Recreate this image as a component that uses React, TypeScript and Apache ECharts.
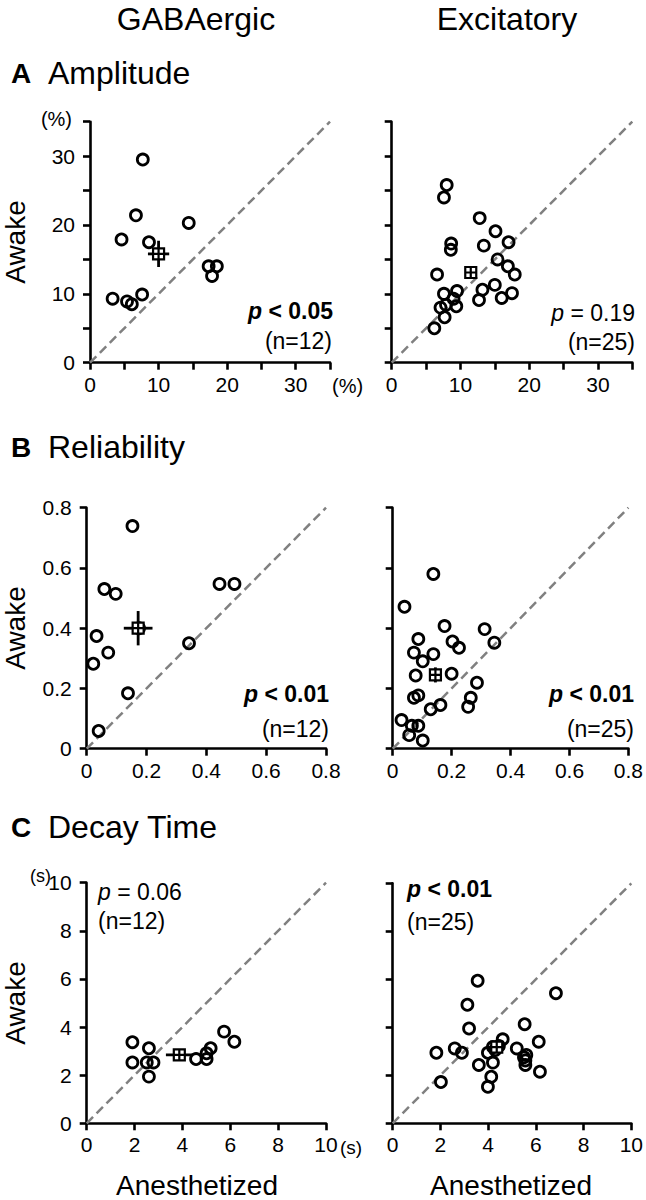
import React, { useEffect, useRef } from "react";
import * as echarts from "echarts";

const FONT = '"Liberation Sans", Arial, Helvetica, sans-serif';

// ---- Data (Anesthetized = x, Awake = y) ----
const ampGaba = [
  [7.7, 29.5], [6.7, 21.4], [4.6, 17.9], [14.4, 20.3], [8.6, 17.5], [3.3, 9.3],
  [5.4, 8.9], [6.1, 8.5], [7.6, 9.9], [17.3, 14.0], [18.5, 14.0], [17.8, 12.6],
];
const ampGabaMean = [10.0, 15.8];
const ampGabaSem = [1.55, 1.9];

const ampExc = [
  [8.0, 25.8], [7.6, 24.0], [12.8, 21.0], [15.1, 19.1], [17.0, 17.5], [8.65, 17.3],
  [8.6, 16.4], [13.4, 17.0], [15.4, 15.0], [16.9, 14.0], [17.9, 12.8], [6.6, 12.8],
  [7.6, 10.0], [9.5, 10.4], [13.2, 10.6], [15.0, 11.3], [17.5, 10.1], [16.0, 9.4],
  [12.7, 9.1], [7.1, 8.0], [7.9, 8.4], [9.0, 9.3], [9.4, 8.2], [7.7, 6.6], [6.2, 5.0],
];
const ampExcMean = [11.5, 13.1];
const ampExcSem = [0.7, 0.8];

const relGaba = [
  [0.153, 0.739], [0.059, 0.53], [0.097, 0.514], [0.033, 0.374], [0.072, 0.319],
  [0.022, 0.282], [0.138, 0.184], [0.04, 0.059], [0.342, 0.35], [0.444, 0.547],
  [0.494, 0.547], [0.175, 0.4],
];
const relGabaMean = [0.172, 0.4];
const relGabaSem = [0.048, 0.057];

const relExc = [
  [0.138, 0.58], [0.04, 0.471], [0.176, 0.407], [0.312, 0.397], [0.087, 0.364],
  [0.203, 0.356], [0.225, 0.335], [0.345, 0.352], [0.072, 0.319], [0.138, 0.314],
  [0.102, 0.29], [0.078, 0.243], [0.2, 0.249], [0.286, 0.219], [0.087, 0.177],
  [0.072, 0.169], [0.265, 0.169], [0.162, 0.145], [0.256, 0.139], [0.129, 0.131],
  [0.03, 0.095], [0.065, 0.076], [0.087, 0.076], [0.056, 0.045], [0.102, 0.027],
];
const relExcMean = [0.145, 0.245];
const relExcSem = [0.02, 0.025];

const decGaba = [
  [1.91, 3.37], [1.91, 2.53], [2.6, 3.12], [2.51, 2.53], [2.79, 2.53], [2.6, 1.94],
  [4.57, 2.67], [5.01, 2.67], [5.01, 2.91], [5.18, 3.12], [5.74, 3.81], [6.17, 3.39],
];
const decGabaMean = [3.87, 2.84];
const decGabaSem = [0.56, 0.2];

const decExc = [
  [3.56, 5.94], [6.84, 5.42], [3.13, 4.94], [3.2, 3.95], [5.53, 4.13], [4.61, 3.5],
  [6.12, 3.4], [2.6, 3.12], [2.9, 2.94], [1.83, 2.94], [5.2, 3.12], [5.6, 2.85],
  [3.99, 2.94], [4.2, 3.18], [5.56, 2.62], [5.56, 2.43], [3.61, 2.43], [4.2, 2.53],
  [6.17, 2.15], [4.13, 1.94], [2.02, 1.72], [3.99, 1.52], [4.45, 3.22], [4.3, 3.05],
  [5.5, 2.75],
];
const decExcMean = [4.36, 3.17];
const decExcSem = [0.3, 0.25];

const columnTitles = ["GABAergic", "Excitatory"];
const rowLetters = ["A", "B", "C"];
const rowTitles = ["Amplitude", "Reliability", "Decay Time"];
const pTexts = [
  ["p", " < 0.05", true], ["p", " = 0.19", false],
  ["p", " < 0.01", true], ["p", " < 0.01", true],
  ["p", " = 0.06", false], ["p", " < 0.01", true],
];
const nTexts = ["(n=12)", "(n=25)", "(n=12)", "(n=25)", "(n=12)", "(n=25)"];

// ---- Layout ----
const grids = [
  { left: 90, top: 121.7, width: 240, height: 241 },
  { left: 391.7, top: 121.7, width: 240.6, height: 241 },
  { left: 86.7, top: 507.7, width: 239.3, height: 241 },
  { left: 392.7, top: 507.7, width: 239.6, height: 241 },
  { left: 86.7, top: 882.7, width: 239.3, height: 240.6 },
  { left: 392.7, top: 883.3, width: 239.6, height: 240 },
];

const panels = [
  { data: ampGaba, mean: ampGabaMean, sem: ampGabaSem, max: 35, interval: 5, fmt: (v: number) => (v % 10 === 0 ? String(v) : "") },
  { data: ampExc, mean: ampExcMean, sem: ampExcSem, max: 35, interval: 5, fmt: (v: number) => (v % 10 === 0 ? String(v) : "") },
  { data: relGaba, mean: relGabaMean, sem: relGabaSem, max: 0.8, interval: 0.2, fmt: (v: number) => (v === 0 ? "0" : (+v).toFixed(1)) },
  { data: relExc, mean: relExcMean, sem: relExcSem, max: 0.8, interval: 0.2, fmt: (v: number) => (v === 0 ? "0" : (+v).toFixed(1)) },
  { data: decGaba, mean: decGabaMean, sem: decGabaSem, max: 10, interval: 2, fmt: (v: number) => String(Math.round(v)) },
  { data: decExc, mean: decExcMean, sem: decExcSem, max: 10, interval: 2, fmt: (v: number) => String(Math.round(v)) },
];

const LW = 2.6;

function makeAxis(i: number, p: any, isY: boolean) {
  const showLabel = !isY || i % 2 === 0;
  return {
    type: "value",
    gridIndex: i,
    min: 0,
    max: p.max,
    interval: p.interval,
    axisLine: { show: true, onZero: false, lineStyle: { color: "#000", width: LW } },
    axisTick: { show: true, length: 7, lineStyle: { color: "#000", width: LW } },
    splitLine: { show: false },
    axisLabel: {
      show: showLabel,
      formatter: p.fmt,
      color: "#000",
      fontSize: 21,
      fontFamily: FONT,
      margin: isY ? 15 : 11,
    },
  };
}

function makeSeries(i: number, p: any) {
  const [mx, my] = p.mean;
  const [ex, ey] = p.sem;
  return [
    {
      type: "line",
      xAxisIndex: i,
      yAxisIndex: i,
      data: [[0, 0], [p.max, p.max]],
      symbol: "none",
      lineStyle: { color: "#808080", width: 2.5, type: [9, 5] },
      z: 2,
      silent: true,
    },
    {
      type: "scatter",
      xAxisIndex: i,
      yAxisIndex: i,
      data: p.data,
      symbol: "circle",
      symbolSize: 11,
      itemStyle: { color: "rgba(0,0,0,0)", borderColor: "#000", borderWidth: 2.8, opacity: 1 },
      z: 3,
    },
    {
      type: "line",
      xAxisIndex: i,
      yAxisIndex: i,
      data: [[mx - ex, my], [mx + ex, my]],
      symbol: "none",
      lineStyle: { color: "#000", width: 2.8 },
      z: 4,
    },
    {
      type: "line",
      xAxisIndex: i,
      yAxisIndex: i,
      data: [[mx, my - ey], [mx, my + ey]],
      symbol: "none",
      lineStyle: { color: "#000", width: 2.8 },
      z: 4,
    },
    {
      type: "scatter",
      xAxisIndex: i,
      yAxisIndex: i,
      data: [p.mean],
      symbol: "path://M0,0H10V10H0Z M5,0V10 M0,5H10",
      symbolSize: 11,
      itemStyle: { color: "#fff", borderColor: "#000", borderWidth: 2.2, opacity: 1 },
      z: 5,
    },
  ];
}

function txt(text: string, x: number, y: number, size: number, align = "left", extra: any = {}) {
  const { weight, ...rest } = extra;
  return {
    type: "text",
    x,
    y,
    ...rest,
    style: {
      text,
      fill: "#000",
      font: `${weight || "normal"} ${size}px ${FONT}`,
      fontSize: size,
      fontFamily: FONT,
      fontWeight: weight || "normal",
      align,
      textAlign: align,
      verticalAlign: "middle",
      textVerticalAlign: "middle",
    },
  };
}

function pText(i: number, x: number, y: number, align: string) {
  const [pp, rest, bold] = pTexts[i] as any;
  const w = bold ? "bold" : "normal";
  return {
    type: "text",
    x,
    y,
    style: {
      text: `{i|${pp}}{n|${rest}}`,
      align,
      textAlign: align,
      verticalAlign: "middle",
      textVerticalAlign: "middle",
      rich: {
        i: { fontStyle: "italic", fontWeight: w, fontSize: 23, fontFamily: FONT, fill: "#000", color: "#000" },
        n: { fontWeight: w, fontSize: 23, fontFamily: FONT, fill: "#000", color: "#000" },
      },
    },
  };
}

export default function App() {
  const ref = useRef<HTMLDivElement>(null);
  useEffect(() => {
    if (!ref.current) return;
    const chart = echarts.init(ref.current, undefined, { renderer: "svg" });
    const xAxis = panels.map((p, i) => makeAxis(i, p, false));
    const yAxis = panels.map((p, i) => makeAxis(i, p, true));
    const series = panels.flatMap((p, i) => makeSeries(i, p));

    const graphic: any[] = [
      txt(columnTitles[0], 196, 19, 32, "center"),
      txt(columnTitles[1], 507, 19, 32, "center"),
      txt(rowLetters[0], 11, 73, 28, "left", { weight: "bold" }),
      txt(rowTitles[0], 48, 73, 32),
      txt(rowLetters[1], 11, 447, 28, "left", { weight: "bold" }),
      txt(rowTitles[1], 48, 447, 32),
      txt(rowLetters[2], 11, 827, 28, "left", { weight: "bold" }),
      txt(rowTitles[2], 48, 827, 32),
      txt("Awake", 15, 242, 28, "center", { rotation: Math.PI / 2 }),
      txt("Awake", 15, 628, 28, "center", { rotation: Math.PI / 2 }),
      txt("Awake", 15, 1003, 28, "center", { rotation: Math.PI / 2 }),
      txt("Anesthetized", 197, 1185, 28, "center"),
      txt("Anesthetized", 511, 1185, 28, "center"),
      txt("(%)", 72, 119, 20, "right"),
      txt("(%)", 332, 386, 20, "left"),
      txt("(s)", 51, 876, 18, "right"),
      txt("(s)", 340, 1147, 19, "left"),
      pText(0, 333, 311, "right"),
      txt(nTexts[0], 332, 341, 23, "right"),
      pText(1, 635, 313, "right"),
      txt(nTexts[1], 635, 342, 23, "right"),
      pText(2, 329, 694, "right"),
      txt(nTexts[2], 329, 729, 23, "right"),
      pText(3, 634, 694, "right"),
      txt(nTexts[3], 634, 729, 23, "right"),
      pText(4, 98, 892, "left"),
      txt(nTexts[4], 98, 921, 23, "left"),
      pText(5, 407, 889, "left"),
      txt(nTexts[5], 407, 922, 23, "left"),
    ];

    chart.setOption({
      animation: false,
      backgroundColor: "#fff",
      textStyle: { fontFamily: FONT },
      grid: grids.map((g) => ({ ...g, containLabel: false })),
      xAxis,
      yAxis,
      series,
      graphic,
    });
    return () => chart.dispose();
  }, []);
  return (
    <div
      ref={ref}
      style={{ position: "absolute", left: 0, top: 0, width: 646, height: 1200, background: "#fff" }}
    />
  );
}
